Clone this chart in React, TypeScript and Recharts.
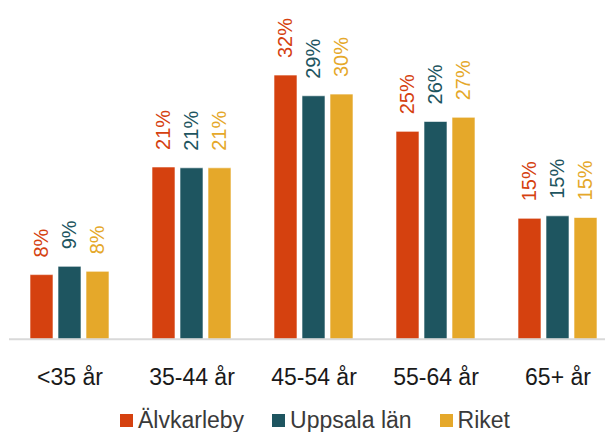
import React from "react";
import { BarChart, Bar, XAxis, YAxis, Legend, LabelList } from "recharts";

const categories = ["<35 år", "35-44 år", "45-54 år", "55-64 år", "65+ år"];
const alvkarleby = [7.8, 20.8, 31.9, 25.1, 14.6];
const uppsalaLan = [8.8, 20.7, 29.4, 26.3, 14.9];
const riket = [8.2, 20.7, 29.6, 26.8, 14.7];

const seriesNames = ["Älvkarleby", "Uppsala län", "Riket"];
const seriesKeys = ["alv", "upp", "rik"];
const colors = ["#D5410F", "#1E5560", "#E5A82A"];

const data = categories.map((c, i) => ({
  cat: c,
  alv: alvkarleby[i],
  upp: uppsalaLan[i],
  rik: riket[i],
}));

const FONT = "'Liberation Sans', Arial, sans-serif";

const makeLabel = (color: string) => (props: any) => {
  const { x, y, width, value } = props;
  const cx = Number(x) + Number(width) / 2;
  const ty = Number(y) - 17;
  return (
    <text
      x={cx}
      y={ty}
      transform={`rotate(-90, ${cx}, ${ty})`}
      textAnchor="start"
      dominantBaseline="central"
      fill={color}
      fontSize={20}
      fontFamily={FONT}
    >
      {Math.round(Number(value))}%
    </text>
  );
};

const Tick = (props: any) => {
  const { x, y, payload } = props;
  return (
    <text
      x={x}
      y={Number(y) + 46}
      textAnchor="middle"
      fill="#1a1a1a"
      fontSize={23}
      fontFamily={FONT}
    >
      {payload.value}
    </text>
  );
};

const LegendContent = () => (
  <div
    style={{
      height: 24,
      display: "flex",
      alignItems: "center",
      marginLeft: 111,
      fontFamily: FONT,
      fontSize: 23,
      color: "#3a3a3a",
      whiteSpace: "nowrap",
    }}
  >
    {seriesNames.map((n, i) => (
      <div
        key={n}
        style={{ display: "flex", alignItems: "center", marginRight: 28 }}
      >
        <div
          style={{
            width: 13,
            height: 13,
            background: colors[i],
            marginRight: 5,
          }}
        />
        <span>{n}</span>
      </div>
    ))}
  </div>
);

export default function App() {
  return (
    <div style={{ width: 605, height: 424, overflow: "hidden", fontFamily: FONT }}>
      <BarChart
        width={612}
        height={424}
        data={data}
        margin={{ top: 0, right: 1, left: 1, bottom: 0 }}
        barCategoryGap={21}
        barGap={5}
      >
        <XAxis
          dataKey="cat"
          axisLine={{ stroke: "#d9d9d9", strokeWidth: 2 }}
          tickLine={false}
          tickSize={0}
          tickMargin={0}
          height={68.8}
          tick={<Tick />}
          interval={0}
        />
        <YAxis hide domain={[0, 40]} />
        <Legend
          verticalAlign="bottom"
          align="left"
          height={24}
          content={<LegendContent />}
        />
        {seriesKeys.map((k, i) => (
          <Bar
            key={k}
            dataKey={k}
            name={seriesNames[i]}
            fill={colors[i]}
            stroke="#ffffff"
            strokeOpacity={0.6}
            strokeWidth={1}
            isAnimationActive={false}
          >
            <LabelList dataKey={k} content={makeLabel(colors[i])} />
          </Bar>
        ))}
      </BarChart>
    </div>
  );
}
